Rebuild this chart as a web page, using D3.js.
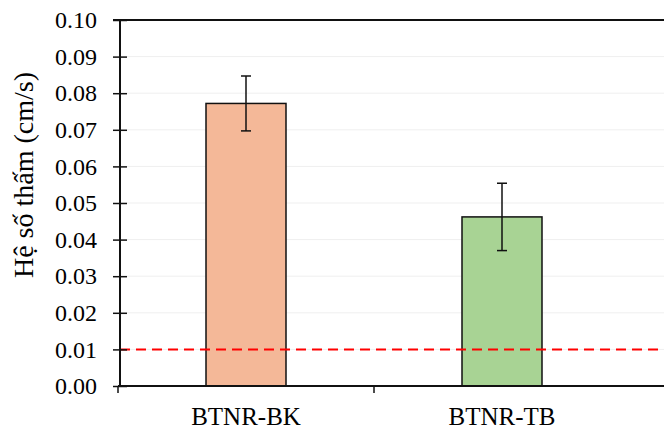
<!DOCTYPE html>
<html>
<head>
<meta charset="utf-8">
<script src="https://cdn.jsdelivr.net/npm/d3@7"></script>
<style>
  body { margin: 0; background: #fff; }
</style>
</head>
<body>
<svg id="chart" width="664" height="429"></svg>
<script>
// data
var categories = ["BTNR-BK", "BTNR-TB"];
var values = [0.0772, 0.0462];
var errors = [0.0075, 0.0092];
var barColors = ["#F4B898", "#A8D394"];
var yTicks = [0, 0.01, 0.02, 0.03, 0.04, 0.05, 0.06, 0.07, 0.08, 0.09, 0.10];
var limitValue = 0.01;

var FONT = "Liberation Serif";

var svg = d3.select("#chart"),
  margin = { top: 20, right: 0, bottom: 43, left: 120 },
  W = +svg.attr("width"),
  H = +svg.attr("height");

var plotBottom = H - margin.bottom; // 386

// band range runs past the visible area (the chart is cropped on the right)
var xScale = d3.scaleBand().domain(categories).range([118, 630]).paddingInner(0).paddingOuter(0);
var yScale = d3.scaleLinear().domain([0, 0.10]).range([plotBottom, margin.top]);

var barW = 80;

// gridlines
svg.append("g")
  .selectAll("line")
  .data(yTicks.slice(1))
  .enter()
  .append("line")
  .attr("x1", margin.left)
  .attr("x2", W)
  .attr("y1", function (d) { return yScale(d); })
  .attr("y2", function (d) { return yScale(d); })
  .style("stroke", "#efefef")
  .style("stroke-width", 1);

// top frame line
svg.append("line")
  .attr("x1", margin.left - 7)
  .attr("x2", W)
  .attr("y1", yScale(0.10))
  .attr("y2", yScale(0.10))
  .style("stroke", "#111")
  .style("stroke-width", 2);

// bars
svg.append("g")
  .selectAll("rect")
  .data(categories)
  .enter()
  .append("rect")
  .attr("x", function (d) { return xScale(d) + xScale.bandwidth() / 2 - barW / 2; })
  .attr("y", function (d, i) { return yScale(values[i]); })
  .attr("width", barW)
  .attr("height", function (d, i) { return plotBottom - yScale(values[i]); })
  .style("fill", function (d, i) { return barColors[i]; })
  .style("stroke", "#111")
  .style("stroke-width", 1.5);

// error bars
var eb = svg.append("g").selectAll("g").data(categories).enter().append("g");
eb.append("line")
  .attr("x1", function (d) { return xScale(d) + xScale.bandwidth() / 2; })
  .attr("x2", function (d) { return xScale(d) + xScale.bandwidth() / 2; })
  .attr("y1", function (d, i) { return yScale(values[i] + errors[i]); })
  .attr("y2", function (d, i) { return yScale(values[i] - errors[i]); })
  .style("stroke", "#111")
  .style("stroke-width", 1.5);
[1, -1].forEach(function (s) {
  eb.append("line")
    .attr("x1", function (d) { return xScale(d) + xScale.bandwidth() / 2 - 5; })
    .attr("x2", function (d) { return xScale(d) + xScale.bandwidth() / 2 + 5; })
    .attr("y1", function (d, i) { return yScale(values[i] + s * errors[i]); })
    .attr("y2", function (d, i) { return yScale(values[i] + s * errors[i]); })
    .style("stroke", "#111")
    .style("stroke-width", 1.5);
});

// red dashed limit line
svg.append("line")
  .attr("x1", margin.left)
  .attr("x2", W)
  .attr("y1", yScale(limitValue))
  .attr("y2", yScale(limitValue))
  .style("stroke", "#ff0000")
  .style("stroke-width", 2)
  .style("stroke-dasharray", "10,6");

// y axis
var yAxis = d3.axisLeft(yScale)
  .tickValues(yTicks)
  .tickSize(7)
  .tickPadding(16)
  .tickFormat(d3.format(".2f"));
var gy = svg.append("g")
  .attr("transform", "translate(" + margin.left + ",0)")
  .call(yAxis);
gy.attr("font-family", FONT).attr("font-size", 24);
gy.select(".domain").style("stroke", "#111").style("stroke-width", 2).attr("d", "M0," + margin.top + "V" + plotBottom);
// ticks cross the axis
gy.selectAll(".tick line").attr("x1", -7).attr("x2", 7).style("stroke", "#111").style("stroke-width", 1.5);
gy.selectAll("text").attr("font-family", FONT).attr("font-size", 24).attr("fill", "#000");

// x axis, ticks at the band boundaries
var xAxisLine = svg.append("g");
xAxisLine.append("line")
  .attr("x1", margin.left - 2)
  .attr("x2", W)
  .attr("y1", plotBottom)
  .attr("y2", plotBottom)
  .style("stroke", "#111")
  .style("stroke-width", 2);
xAxisLine.selectAll("line.xt")
  .data(categories)
  .enter()
  .append("line")
  .attr("class", "xt")
  .attr("x1", function (d) { return xScale(d); })
  .attr("x2", function (d) { return xScale(d); })
  .attr("y1", plotBottom)
  .attr("y2", plotBottom + 7)
  .style("stroke", "#111")
  .style("stroke-width", 1.5);

svg.append("g")
  .selectAll("text")
  .data(categories)
  .enter()
  .append("text")
  .attr("x", function (d) { return xScale(d) + xScale.bandwidth() / 2; })
  .attr("y", 425)
  .attr("text-anchor", "middle")
  .attr("font-family", FONT)
  .attr("font-size", 25)
  .text(function (d) { return d; });

// y label
svg.append("text")
  .attr("text-anchor", "middle")
  .attr("transform", "translate(33,175)rotate(-90)")
  .attr("font-family", FONT)
  .attr("font-size", 28)
  .text("Hệ số thấm (cm/s)");
</script>
</body>
</html>
